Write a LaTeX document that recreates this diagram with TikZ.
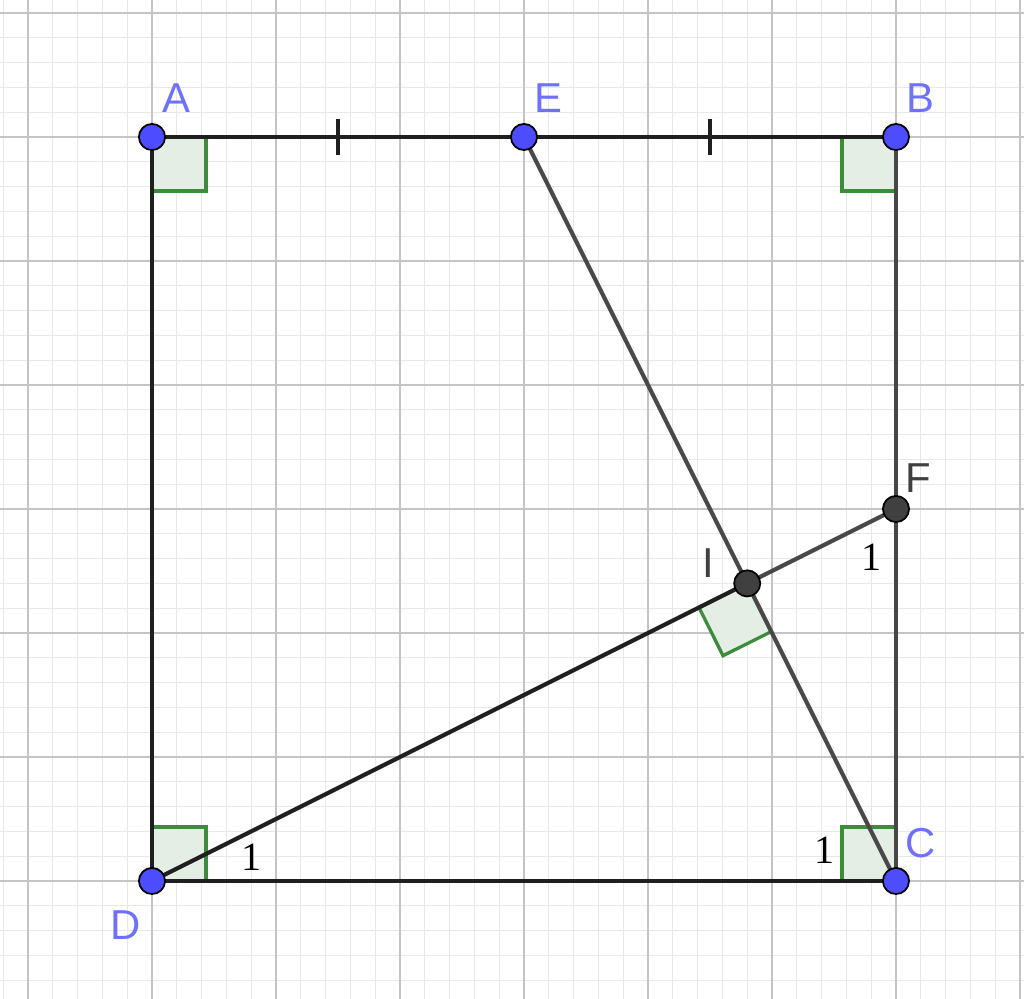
\documentclass[tikz,border=0pt]{standalone}
\usepackage{fontspec}
\setmainfont{Liberation Serif}
\newfontfamily\ptfont{Liberation Sans}
\usetikzlibrary{positioning}
\usetikzlibrary{calc}
\definecolor{ptblue}{RGB}{77,77,255}
\definecolor{lblblue}{RGB}{112,112,255}
\definecolor{ptgray}{RGB}{64,64,64}
\definecolor{seggray}{RGB}{72,72,72}
\definecolor{anggreen}{RGB}{60,140,60}
\definecolor{angfill}{RGB}{228,238,228}
\definecolor{majgrid}{RGB}{196,196,196}
\definecolor{mingrid}{RGB}{232,232,232}
\tikzset{circ/.style = {fill = ptblue, draw = black, line width = 0.4pt, circle, inner sep = 0, minimum size = 6pt}}
\tikzset{graycirc/.style = {circ, fill = ptgray}}
\tikzset{seg/.style = {line width = 0.95pt, black!88}}
\tikzset{graysegm/.style = {line width = 0.95pt, seggray}}
\tikzset{rightang/.style = {fill = angfill, draw = anggreen, line width = 0.75pt}}
\tikzset{ptlabel/.style = {text = lblblue, font = \ptfont\fontsize{9.6}{11}\selectfont}}
\tikzset{graylabel/.style = {ptlabel, text = ptgray}}
\tikzset{anglabel/.style = {font = \fontsize{9.2}{11}\selectfont}}

\begin{document}
\begin{tikzpicture}
      \useasboundingbox (-1.2258, -0.9516) rectangle (7.0323, 7.1048);
      \clip (-1.2258, -0.9516) rectangle (7.0323, 7.1048);
      \draw [mingrid, line width = 0.25pt, step = 0.2] (-1.4, -1.2) grid (7.2, 7.2);
      \draw [majgrid, line width = 0.45pt, step = 1] (-1.4, -1.2) grid (7.2, 7.2);

      \coordinate (A) at (0, 6);
      \coordinate (B) at (6, 6);
      \coordinate (C) at (6, 0);
      \coordinate (D) at (0, 0);
      \coordinate (E) at (3, 6);
      \coordinate (F) at (6, 3);
      \coordinate (I) at (4.8, 2.4);

      % right angle marks
      \draw [rightang] (A) rectangle ++(0.435, -0.435);
      \draw [rightang] (B) rectangle ++(-0.435, -0.435);
      \draw [rightang] (C) rectangle ++(-0.435, 0.435);
      \draw [rightang] (D) rectangle ++(0.435, 0.435);
      \draw [rightang] (I) -- ++(-0.389, -0.194) -- ++(0.194, -0.389) -- ++(0.389, 0.194) -- cycle;

      \draw [seg] (A) -- (B);
      \draw [seg] (A) -- (D);
      \draw [seg] (D) -- (C);
      \draw [graysegm] (B) -- (C);
      \draw [graysegm] (E) -- (C);
      \draw [seg] (D) -- (I);
      \draw [graysegm] (I) -- (F);

      % equal marks
      \coordinate (mAE) at ($(A)!0.5!(E)$);
      \coordinate (mEB) at ($(E)!0.5!(B)$);
      \draw [seg] ([yshift = 0.145cm] mAE) -- ([yshift = -0.145cm] mAE);
      \draw [seg] ([yshift = 0.145cm] mEB) -- ([yshift = -0.145cm] mEB);

      \node [circ] (pA) at (A) {};
      \node [circ] (pB) at (B) {};
      \node [circ] (pC) at (C) {};
      \node [circ] (pD) at (D) {};
      \node [circ] (pE) at (E) {};
      \node [graycirc] (pF) at (F) {};
      \node [graycirc] (pI) at (I) {};

      \node [ptlabel] (lA) at (0.194, 6.315) {A};
      \node [ptlabel] (lE) at (3.194, 6.315) {E};
      \node [ptlabel] (lB) at (6.194, 6.315) {B};
      \node [ptlabel] (lC) at (6.202, 0.306) {C};
      \node [ptlabel] (lD) at (-0.21, -0.355) {D};
      \node [graylabel] (lF) at (6.177, 3.25) {F};
      \node [graylabel] (lI) at (4.484, 2.567) {I};

      \node [anglabel] (aD) at (0.806, 0.194) {1};
      \node [anglabel] (aC) at (5.427, 0.25) {1};
      \node [anglabel] (aF) at (5.806, 2.613) {1};
\end{tikzpicture}
\end{document}
